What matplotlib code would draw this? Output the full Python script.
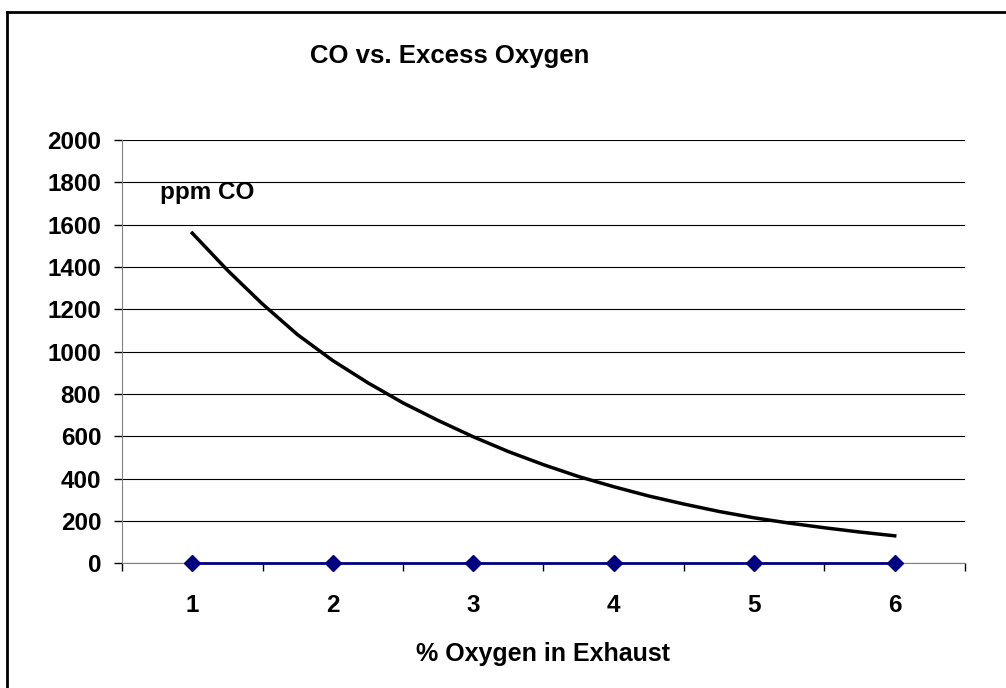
import matplotlib.pyplot as plt
from matplotlib.lines import Line2D

plt.rcParams['font.family'] = ['Liberation Sans', 'DejaVu Sans']
plt.rcParams['font.weight'] = 'bold'

categories = [1, 2, 3, 4, 5, 6]
baseline = [0, 0, 0, 0, 0, 0]

# ppm CO curve
o2 = [1.0, 1.25, 1.5, 1.75, 2.0, 2.25, 2.5, 2.75, 3.0, 3.25, 3.5, 3.75,
      4.0, 4.25, 4.5, 4.75, 5.0, 5.25, 5.5, 5.75, 6.0]
co = [1560, 1385, 1225, 1080, 958, 853, 758, 675, 598, 528, 466, 410,
      362, 318, 280, 245, 215, 190, 168, 148, 130]

yticks = [0, 200, 400, 600, 800, 1000, 1200, 1400, 1600, 1800, 2000]

fig = plt.figure(figsize=(10.06, 6.88), dpi=100)
ax = fig.add_axes([0.1213, 0.1812, 0.8379, 0.6153])

ax.plot(o2, co, color='black', linewidth=2.5, zorder=3)
ax.plot(categories, baseline, color='#000080', linewidth=2, marker='D',
        markersize=8, zorder=4, clip_on=False)

ax.set_xlim(0.5, 6.5)
ax.set_ylim(0, 2000)
ax.set_yticks(yticks)
ax.set_xticks(categories)
ax.set_xticks([0.5 + i for i in range(7)], minor=True)
ax.tick_params(axis='x', which='major', length=0, pad=22, labelsize=17.5)
ax.tick_params(axis='x', which='minor', length=6, width=1, direction='out')
ax.tick_params(axis='y', length=6, width=1, direction='out', pad=9, labelsize=17.5)
for lab in ax.get_xticklabels() + ax.get_yticklabels():
    lab.set_fontweight('bold')

ax.grid(axis='y', color='black', linewidth=0.8)
ax.set_axisbelow(True)
for s in ['top', 'right']:
    ax.spines[s].set_visible(False)
ax.spines['left'].set_color('#808080')
ax.spines['bottom'].set_color('#808080')

ax.text(0.77, 1754, 'ppm CO', fontsize=17.5, fontweight='bold', va='center', ha='left')
ax.set_xlabel('% Oxygen in Exhaust', fontsize=18, fontweight='bold', labelpad=18)

fig.text(0.447, 0.918, 'CO vs. Excess Oxygen', fontsize=18.5, fontweight='bold',
         ha='center', va='center')

# outer frame (top and left edges)
fig.add_artist(Line2D([7 / 1006, 1], [1 - 12 / 688, 1 - 12 / 688], color='black', linewidth=2))
fig.add_artist(Line2D([7 / 1006, 7 / 1006], [0, 1 - 12 / 688], color='black', linewidth=2))

plt.savefig('out.png', dpi=100)
